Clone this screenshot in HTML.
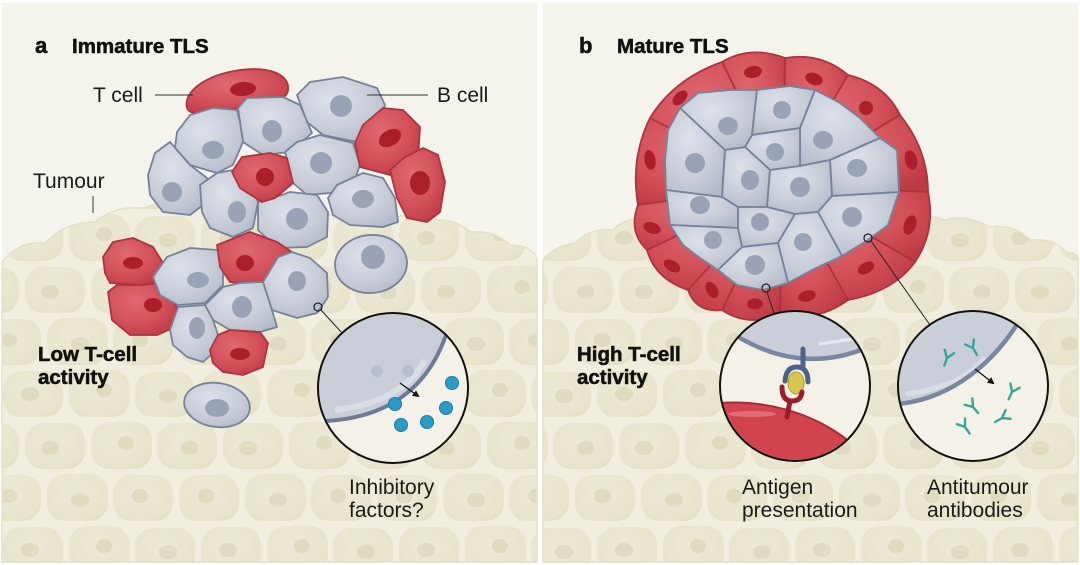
<!DOCTYPE html>
<html><head><meta charset="utf-8">
<style>
html,body{margin:0;padding:0;background:#fff;}
svg{display:block;}
.tb{font-family:"Liberation Sans",Arial,sans-serif;font-weight:bold;fill:#111;stroke:#111;stroke-width:0.55;}
.tr{font-family:"Liberation Sans",Arial,sans-serif;fill:#1a1a1a;font-size:21px;}
.g{fill:url(#gg);stroke:#76829a;stroke-width:1.8;stroke-linejoin:round;}
.r{fill:url(#rg);stroke:#ab3440;stroke-width:1.8;stroke-linejoin:round;}
.gn{fill:#9aa3b5;}
.rn{fill:#aa1f2b;}
</style></head>
<body>
<svg width="1080" height="565" viewBox="0 0 1080 565" xmlns="http://www.w3.org/2000/svg">
<defs>
<radialGradient id="gg" cx="0.4" cy="0.35" r="0.75">
<stop offset="0" stop-color="#dde1e9"/><stop offset="0.6" stop-color="#c8cdd8"/><stop offset="1" stop-color="#b2b9c8"/>
</radialGradient>
<radialGradient id="rg" cx="0.4" cy="0.35" r="0.75">
<stop offset="0" stop-color="#e06a72"/><stop offset="0.6" stop-color="#d14f59"/><stop offset="1" stop-color="#bd3a45"/>
</radialGradient>
<radialGradient id="tc" cx="0.45" cy="0.4" r="0.7">
<stop offset="0" stop-color="#ece9d6"/><stop offset="0.8" stop-color="#e8e4cd"/><stop offset="1" stop-color="#e3dfc6"/>
</radialGradient>
<pattern id="tum" patternUnits="userSpaceOnUse" width="198" height="156" x="0" y="212">
<rect width="198" height="156" fill="#f1eedf"/>
<g fill="url(#tc)">
<rect x="3" y="3" width="60" height="46" rx="18"/>
<rect x="69" y="2" width="61" height="47" rx="18"/>
<rect x="135" y="4" width="60" height="45" rx="18"/>
<rect x="25" y="55" width="60" height="46" rx="18"/>
<rect x="91" y="54" width="61" height="47" rx="18"/>
<rect x="157" y="55" width="60" height="46" rx="18"/>
<rect x="-41" y="55" width="60" height="46" rx="18"/>
<rect x="-19" y="107" width="60" height="46" rx="18"/>
<rect x="179" y="107" width="60" height="46" rx="18"/>
<rect x="47" y="106" width="61" height="47" rx="18"/>
<rect x="113" y="107" width="60" height="46" rx="18"/>
</g>
<g fill="#dfdac0">
<ellipse cx="30" cy="26" rx="9" ry="7"/>
<ellipse cx="104" cy="22" rx="8" ry="7"/>
<ellipse cx="168" cy="28" rx="9" ry="7"/>
<ellipse cx="50" cy="80" rx="9" ry="7"/>
<ellipse cx="126" cy="75" rx="8" ry="7"/>
<ellipse cx="190" cy="80" rx="9" ry="7"/>
<ellipse cx="8" cy="128" rx="9" ry="7"/>
<ellipse cx="80" cy="132" rx="9" ry="7"/>
<ellipse cx="140" cy="128" rx="8" ry="7"/>
</g>
</pattern>
<marker id="ah" markerWidth="7" markerHeight="7" refX="5" refY="3.5" orient="auto" markerUnits="userSpaceOnUse">
<path d="M0,0 L7,3.5 L0,7 Z" fill="#111"/>
</marker>
<clipPath id="ca"><circle cx="393" cy="388" r="74"/></clipPath>
<clipPath id="cb1"><circle cx="795" cy="386" r="74"/></clipPath>
<clipPath id="cb2"><circle cx="973" cy="386" r="74"/></clipPath>
</defs>

<!-- panels -->
<rect x="2" y="3" width="535" height="559" fill="#f4f3ec"/>
<rect x="543" y="3" width="535" height="559" fill="#f4f3ec"/>

<!-- tumour a -->
<path d="M2,262 Q20,240 45,243 Q65,222 95,222 Q115,205 145,208 Q170,196 200,205 L330,215 Q355,212 380,222 Q405,210 430,220 Q455,218 470,232 Q495,230 510,245 Q530,245 537,258 L537,562 L2,562 Z" fill="url(#tum)" stroke="#e3dfc9" stroke-width="1.5"/>
<!-- tumour b -->
<path d="M543,260 Q555,246 575,243 Q590,228 612,230 Q630,214 652,220 L900,220 Q920,212 945,220 Q965,214 990,227 Q1015,224 1030,240 Q1055,238 1066,252 Q1075,252 1078,258 L1078,562 L543,562 Z" fill="url(#tum)" stroke="#e3dfc9" stroke-width="1.5"/>

<!-- ===== Panel a cells ===== -->
<path class="r" d="M187,108 C183,92 205,75 240,70 C270,66 290,75 288,90 C287,101 268,103 245,107 C215,112 190,118 187,108Z"/>
<ellipse class="rn" cx="243" cy="89" rx="13" ry="7" transform="rotate(-5 243 89)"/>

<polygon class="g" points="297,95 310,82 343,77 377,88 385,105 377,125 357,142 323,135 307,122"/>
<ellipse class="gn" cx="341" cy="106" rx="11" ry="11"/>
<polygon class="g" points="238,108 247,98 283,97 300,105 312,133 290,152 263,155 243,142 240,122"/>
<ellipse class="gn" cx="272" cy="131" rx="10" ry="11"/>
<polygon class="g" points="177,132 190,115 213,108 237,110 240,122 243,142 233,165 217,173 190,165 175,148"/>
<ellipse class="gn" cx="213" cy="150" rx="11" ry="9"/>
<polygon class="g" points="148,175 155,153 170,142 190,165 207,178 203,205 190,215 163,212 150,195"/>
<ellipse class="gn" cx="172" cy="192" rx="10" ry="10"/>
<polygon class="g" points="285,152 297,142 320,135 353,143 360,165 353,185 330,193 307,195 293,183"/>
<ellipse class="gn" cx="321" cy="163" rx="11" ry="11"/>
<polygon class="g" points="328,198 337,185 363,173 383,178 395,198 398,222 383,227 350,225 333,215"/>
<ellipse class="gn" cx="363" cy="199" rx="11" ry="9"/>
<polygon class="g" points="200,185 217,173 233,170 250,182 258,202 253,228 233,237 210,228 202,212"/>
<ellipse class="gn" cx="237" cy="212" rx="9" ry="11"/>
<polygon class="g" points="258,202 273,198 290,192 317,195 328,212 327,237 307,247 277,248 258,230"/>
<ellipse class="gn" cx="297" cy="219" rx="11" ry="11"/>
<polygon class="r" points="232,172 242,157 270,153 287,158 293,183 275,198 262,202 240,188"/>
<ellipse class="rn" cx="265" cy="177" rx="9" ry="9"/>
<polygon class="r" points="355,143 363,125 383,108 403,110 420,127 418,158 405,172 390,175 360,167"/>
<ellipse class="rn" cx="390" cy="138" rx="12" ry="8" transform="rotate(-30 390 138)"/>
<polygon class="r" points="390,170 405,157 423,148 438,155 445,182 440,212 427,222 407,218 397,198"/>
<ellipse class="rn" cx="420" cy="183" rx="10" ry="12"/>

<polygon class="r" points="103,257 113,242 133,238 153,247 163,263 160,283 137,285 110,283 105,273"/>
<ellipse class="rn" cx="133" cy="263" rx="10" ry="6"/>
<polygon class="r" points="108,292 117,285 143,285 160,283 177,307 175,327 157,335 130,335 112,320"/>
<ellipse class="rn" cx="153" cy="305" rx="9" ry="7"/>
<polygon class="g" points="153,277 167,257 190,248 218,250 223,267 223,285 205,303 178,305 160,295"/>
<ellipse class="gn" cx="198" cy="280" rx="11" ry="8"/>
<polygon class="r" points="217,245 250,232 277,242 292,252 275,278 253,285 230,282 220,267"/>
<ellipse class="rn" cx="245" cy="263" rx="9" ry="8"/>
<polygon class="g" points="263,282 278,257 292,252 310,258 327,273 328,297 317,313 297,318 272,310"/>
<ellipse class="gn" cx="297" cy="281" rx="9" ry="10"/>
<polygon class="g" points="205,305 223,287 240,283 263,282 272,310 277,327 260,332 230,330 213,320"/>
<ellipse class="gn" cx="242" cy="307" rx="10" ry="11"/>
<polygon class="g" points="170,330 178,307 205,305 213,320 218,335 213,353 203,362 187,357 173,345"/>
<ellipse class="gn" cx="197" cy="328" rx="8" ry="11"/>
<polygon class="r" points="210,350 218,335 230,330 260,332 268,343 263,367 243,375 223,372 213,363"/>
<ellipse class="rn" cx="240" cy="354" rx="10" ry="6"/>
<ellipse class="g" cx="371" cy="264" rx="36" ry="29" transform="rotate(-5 371 264)"/>
<ellipse class="gn" cx="373" cy="257" rx="12" ry="12"/>
<ellipse class="g" cx="217" cy="405" rx="33" ry="22" transform="rotate(8 217 405)"/>
<ellipse class="gn" cx="217" cy="408" rx="12" ry="9"/>

<!-- label lines a -->
<line x1="155" y1="95" x2="193" y2="95" stroke="#333" stroke-width="1"/>
<line x1="367" y1="95" x2="428" y2="95" stroke="#333" stroke-width="1"/>
<line x1="93" y1="196" x2="93" y2="213" stroke="#333" stroke-width="1"/>

<!-- zoom circle a -->
<circle cx="318" cy="307" r="4" fill="none" stroke="#222" stroke-width="1.3"/>
<line x1="321" y1="310" x2="342" y2="333" stroke="#222" stroke-width="1"/>
<circle cx="393" cy="388" r="75" fill="#f4f2e8"/>
<g clip-path="url(#ca)">
<path d="M326,421 C380,418 425,395 446,335 L480,300 L300,300 L300,430 Z" fill="#c9ced9"/>
<path d="M335,410 C380,405 410,388 425,360" stroke="#fff" stroke-width="6" opacity="0.3" fill="none"/>
<path d="M326,421 C380,418 425,395 446,335" stroke="#6f7a93" stroke-width="4" fill="none"/>
<circle cx="377" cy="371" r="6" fill="#b6bfce"/>
<circle cx="408" cy="371" r="6" fill="#b6bfce"/>
<line x1="400" y1="383" x2="418" y2="396" stroke="#111" stroke-width="1.3" marker-end="url(#ah)"/>
<g fill="#2b9bc6" stroke="#1d7aa2" stroke-width="1">
<circle cx="395" cy="404" r="6.5"/><circle cx="452" cy="383" r="6.5"/><circle cx="446" cy="408" r="6.5"/><circle cx="427" cy="422" r="6.5"/><circle cx="401" cy="425" r="6.5"/>
</g>
</g>
<circle cx="393" cy="388" r="75" fill="none" stroke="#111" stroke-width="2"/>

<!-- ===== Panel b TLS ===== -->
<g class="r">
<path d="M638,205 Q630,159 650,118 L783,185 Z"/>
<path d="M650,118 Q674,79 722,62 L783,185 Z"/>
<path d="M722,62 Q750,45 785,58 L783,185 Z"/>
<path d="M785,58 Q821,52 848,75 L783,185 Z"/>
<path d="M848,75 Q885,84 900,115 L783,185 Z"/>
<path d="M900,115 Q928,150 928,192 L783,185 Z"/>
<path d="M928,192 Q936,231 915,262 L783,185 Z"/>
<path d="M915,262 Q893,292 848,300 L783,185 Z"/>
<path d="M848,300 Q818,322 780,315 L783,185 Z"/>
<path d="M780,315 Q747,327 722,310 L783,185 Z"/>
<path d="M722,310 Q696,313 688,290 L783,185 Z"/>
<path d="M688,290 Q655,279 647,250 L783,185 Z"/>
<path d="M647,250 Q628,232 638,205 L783,185 Z"/>
</g>
<g class="rn">
<ellipse cx="650" cy="160" rx="10" ry="5.5" transform="rotate(80 650 160)"/>
<ellipse cx="680" cy="98" rx="9" ry="5.5" transform="rotate(-45 680 98)"/>
<ellipse cx="753" cy="72" rx="9" ry="6" transform="rotate(-10 753 72)"/>
<ellipse cx="814" cy="79" rx="9" ry="6" transform="rotate(20 814 79)"/>
<ellipse cx="866" cy="108" rx="7" ry="7"/>
<ellipse cx="911" cy="160" rx="10" ry="6" transform="rotate(75 911 160)"/>
<ellipse cx="910" cy="225" rx="10" ry="6" transform="rotate(-70 910 225)"/>
<ellipse cx="866" cy="268" rx="9" ry="5.5" transform="rotate(-30 866 268)"/>
<ellipse cx="807" cy="296" rx="9" ry="5.5" transform="rotate(-15 807 296)"/>
<ellipse cx="755" cy="304" rx="8" ry="5.5"/>
<ellipse cx="712" cy="290" rx="9" ry="5.5" transform="rotate(60 712 290)"/>
<ellipse cx="672" cy="266" rx="9" ry="5.5" transform="rotate(30 672 266)"/>
<ellipse cx="652" cy="228" rx="9" ry="5.5" transform="rotate(20 652 228)"/>
</g>
<g class="g">
<polygon points="680,108 698,93 730,90 757,90 752,135 745,147 725,150"/>
<polygon points="757,90 790,86 815,90 800,128 752,135"/>
<polygon points="815,90 840,103 860,118 880,138 830,160 800,166 800,128"/>
<polygon points="665,160 668,130 680,108 725,150 722,197 666,190"/>
<polygon points="752,135 800,128 800,166 770,170 745,147"/>
<polygon points="880,138 897,150 899,192 832,196 830,160"/>
<polygon points="725,150 745,147 770,170 767,207 738,207 722,197"/>
<polygon points="770,170 800,166 830,160 832,196 818,212 795,214 767,207"/>
<polygon points="666,190 722,197 738,207 738,228 670,225"/>
<polygon points="738,207 767,207 795,214 778,243 742,247 738,228"/>
<polygon points="899,192 888,225 868,240 842,256 818,212 832,196"/>
<polygon points="670,225 738,228 742,247 718,270 700,258 683,245"/>
<polygon points="795,214 818,212 842,256 812,270 788,283 778,243"/>
<polygon points="742,247 778,243 788,283 763,290 737,285 718,270"/>
</g>
<g class="gn">
<ellipse cx="728" cy="126" rx="10" ry="9"/>
<ellipse cx="782" cy="110" rx="9" ry="9"/>
<ellipse cx="823" cy="140" rx="10" ry="9"/>
<ellipse cx="695" cy="163" rx="10" ry="10"/>
<ellipse cx="775" cy="152" rx="9" ry="9"/>
<ellipse cx="857" cy="168" rx="10" ry="9"/>
<ellipse cx="750" cy="180" rx="9" ry="10"/>
<ellipse cx="800" cy="187" rx="10" ry="10"/>
<ellipse cx="700" cy="205" rx="10" ry="9"/>
<ellipse cx="760" cy="222" rx="9" ry="9"/>
<ellipse cx="852" cy="217" rx="10" ry="10"/>
<ellipse cx="713" cy="240" rx="9" ry="9"/>
<ellipse cx="803" cy="242" rx="9" ry="9"/>
<ellipse cx="755" cy="265" rx="10" ry="10"/>
</g>

<!-- zoom circles b -->
<circle cx="766" cy="288" r="4" fill="none" stroke="#222" stroke-width="1.3"/>
<line x1="767" y1="292" x2="774" y2="313" stroke="#222" stroke-width="1"/>
<circle cx="868" cy="238" r="4" fill="none" stroke="#222" stroke-width="1.3"/>
<line x1="871" y1="241" x2="930" y2="325" stroke="#222" stroke-width="1"/>

<circle cx="795" cy="386" r="75" fill="#f4f2e8"/>
<g clip-path="url(#cb1)">
<path d="M735,335 Q800,375 866,348 L880,300 L710,300 Z" fill="#c9ced9"/>
<path d="M735,335 Q800,375 866,348" stroke="#7b87a2" stroke-width="4.5" fill="none"/>
<path d="M820,344 L852,339" stroke="#e6e9ef" stroke-width="3" stroke-linecap="round"/>
<path d="M720,403 C760,400 810,410 850,442 L880,480 L700,480 Z" fill="#d1444f" stroke="#a82c38" stroke-width="2"/>
<ellipse cx="752" cy="414" rx="24" ry="3" fill="#e58089" opacity="0.7"/>
<line x1="803" y1="349" x2="803" y2="366" stroke="#4e6287" stroke-width="5" stroke-linecap="round"/>
<path d="M785,381 Q786,367 797,367 Q808,367 808,382" stroke="#4e6287" stroke-width="5" fill="none" stroke-linecap="round"/>
<ellipse cx="796" cy="383" rx="8" ry="11" fill="#d8c74f" stroke="#b7a33a" stroke-width="1.2"/>
<path d="M782,387 Q782,401 792,401 Q801,401 802,392" stroke="#97202c" stroke-width="5" fill="none" stroke-linecap="round"/>
<line x1="790" y1="401" x2="787" y2="417" stroke="#97202c" stroke-width="5" stroke-linecap="round"/>
</g>
<circle cx="795" cy="386" r="75" fill="none" stroke="#111" stroke-width="2"/>

<circle cx="973" cy="386" r="75" fill="#f4f2e8"/>
<g clip-path="url(#cb2)">
<path d="M898,404 C940,400 985,375 1018,323 L1050,290 L890,290 Z" fill="#c9ced9"/>
<path d="M906,394 C940,390 968,378 985,358" stroke="#fff" stroke-width="5" opacity="0.3" fill="none"/>
<path d="M898,404 C940,400 985,375 1018,323" stroke="#7b87a2" stroke-width="4.5" fill="none"/>
<line x1="975" y1="369" x2="993" y2="383" stroke="#111" stroke-width="1.3" marker-end="url(#ah)"/>
<g stroke="#38a39c" stroke-width="2.4" fill="none" stroke-linecap="round">
<path transform="translate(947,358) rotate(20)" d="M0,8 L0,0 L-5,-7 M0,0 L5,-7"/>
<path transform="translate(973,348) rotate(-30)" d="M0,8 L0,0 L-5,-7 M0,0 L5,-7"/>
<path transform="translate(1012,392) rotate(25)" d="M0,8 L0,0 L-5,-7 M0,0 L5,-7"/>
<path transform="translate(973,407) rotate(-40)" d="M0,8 L0,0 L-5,-7 M0,0 L5,-7"/>
<path transform="translate(1002,418) rotate(60)" d="M0,8 L0,0 L-5,-7 M0,0 L5,-7"/>
<path transform="translate(965,427) rotate(-35)" d="M0,8 L0,0 L-5,-7 M0,0 L5,-7"/>
</g>
</g>
<circle cx="973" cy="386" r="75" fill="none" stroke="#111" stroke-width="2"/>

<!-- text -->
<text class="tb" x="35" y="53" font-size="22">a</text>
<text class="tb" x="72" y="53" font-size="20.5">Immature TLS</text>
<text class="tb" x="579" y="53" font-size="22">b</text>
<text class="tb" x="617" y="53" font-size="20.5">Mature TLS</text>

<text class="tr" x="93" y="102">T cell</text>
<text class="tr" x="437" y="102">B cell</text>
<text class="tr" x="33" y="188">Tumour</text>

<text class="tb" x="38" y="361" font-size="20.5">Low T-cell</text>
<text class="tb" x="38" y="384" font-size="20.5">activity</text>
<text class="tb" x="577" y="361" font-size="20.5">High T-cell</text>
<text class="tb" x="577" y="384" font-size="20.5">activity</text>

<text class="tr" x="349" y="494">Inhibitory</text>
<text class="tr" x="349" y="517">factors?</text>
<text class="tr" x="742" y="494">Antigen</text>
<text class="tr" x="742" y="517">presentation</text>
<text class="tr" x="927" y="494">Antitumour</text>
<text class="tr" x="927" y="517">antibodies</text>
</svg>
</body></html>
